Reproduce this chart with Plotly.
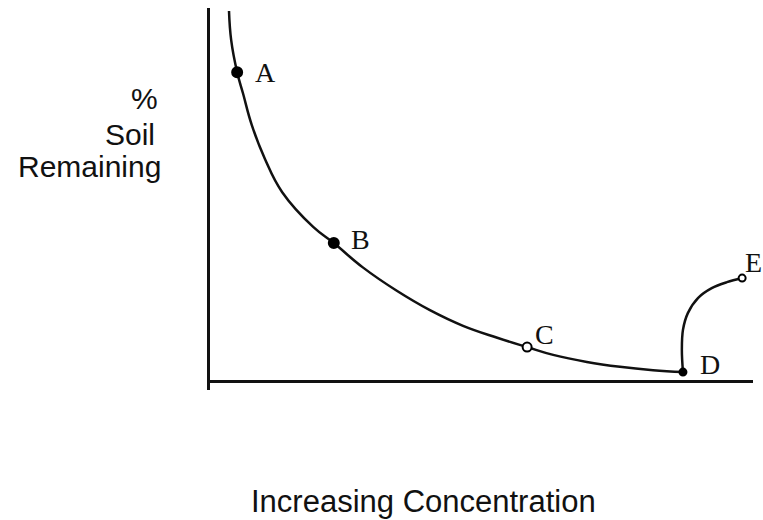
import plotly.graph_objects as go

# Main soil-removal curve (concentration vs % soil remaining)
curve_x = [3.5, 3.9, 5.0, 6.1, 7.7, 10.1, 13.3, 19.0, 22.8, 28.2, 34.4, 40.5, 46.6, 52.9, 58.4, 63.2, 69.4, 75.5, 81.6, 87.1]
curve_y = [99.2, 91.4, 82.8, 77.0, 68.6, 59.6, 50.6, 41.3, 37.0, 30.4, 24.2, 19.0, 14.8, 11.6, 9.1, 7.0, 5.1, 3.8, 2.9, 2.4]

# Rising branch from D to E
branch_x = [87.1, 86.9, 87.1, 88.0, 89.9, 92.4, 95.2, 98.0]
branch_y = [2.4, 8.3, 13.7, 18.2, 22.3, 24.9, 26.5, 27.6]

# Labelled points
point_names = ["A", "B", "C", "D", "E"]
point_x = [5.0, 22.8, 58.4, 87.1, 98.0]
point_y = [82.8, 37.0, 9.1, 2.4, 27.6]
point_fill = ["#000000", "#000000", "white", "#000000", "white"]
point_size = [10, 10, 9, 7, 7]
label_dx = [28, 27, 17, 27, 11]
label_dy = [0, 4, 13, 8, 16]

ink = "#111111"

fig = go.Figure()
fig.add_trace(go.Scatter(x=curve_x, y=curve_y, mode="lines",
                         line=dict(color=ink, width=2.5, shape="spline", smoothing=1.2),
                         hoverinfo="skip", showlegend=False))
fig.add_trace(go.Scatter(x=branch_x, y=branch_y, mode="lines",
                         line=dict(color=ink, width=2.5, shape="spline", smoothing=1.0),
                         hoverinfo="skip", showlegend=False))
fig.add_trace(go.Scatter(x=point_x, y=point_y, mode="markers",
                         marker=dict(color=point_fill, size=point_size, opacity=1,
                                     line=dict(color="#000000", width=2)),
                         cliponaxis=False, showlegend=False, hoverinfo="skip"))

for name, px, py, dx, dy in zip(point_names, point_x, point_y, label_dx, label_dy):
    fig.add_annotation(x=px, y=py, xref="x", yref="y", text=name, showarrow=False,
                       xshift=dx, yshift=dy, xanchor="center", yanchor="middle",
                       font=dict(family="Liberation Serif", size=28, color=ink))

ylab_lines = ["%", "Soil", "Remaining"]
ylab_x = [-0.0921, -0.0976, -0.0866]
ylab_y = [0.764, 0.670, 0.584]
for t, ax, ay in zip(ylab_lines, ylab_x, ylab_y):
    fig.add_annotation(x=ax, y=ay, xref="paper", yref="paper", text=t, showarrow=False,
                       xanchor="right", yanchor="middle",
                       font=dict(family="Liberation Sans", size=30, color=ink))

fig.add_annotation(x=0.394, y=-0.293, xref="paper", yref="paper",
                   text="Increasing Concentration", showarrow=False,
                   xanchor="center", yanchor="middle",
                   font=dict(family="Liberation Sans", size=31, color=ink))

fig.update_layout(
    width=763, height=520,
    margin=dict(l=210, r=10, t=8, b=130),
    paper_bgcolor="white", plot_bgcolor="white",
    hovermode=False,
    xaxis=dict(range=[0, 100], showgrid=False, zeroline=False, showline=False,
               showticklabels=False, ticks=""),
    yaxis=dict(range=[-2.41, 100], showgrid=False, zeroline=True,
               zerolinecolor=ink, zerolinewidth=3,
               showline=True, linecolor=ink, linewidth=3, mirror=False,
               showticklabels=False, ticks=""),
)

fig.write_html("out.html", config={"displayModeBar": False, "staticPlot": True})

# remove the browser's default page margin so the figure sits at the window's corner
with open("out.html", "r", encoding="utf-8") as f:
    html = f.read()
html = html.replace("<head>", "<head><style>html,body{margin:0;padding:0;overflow:hidden;}</style>", 1)
with open("out.html", "w", encoding="utf-8") as f:
    f.write(html)
